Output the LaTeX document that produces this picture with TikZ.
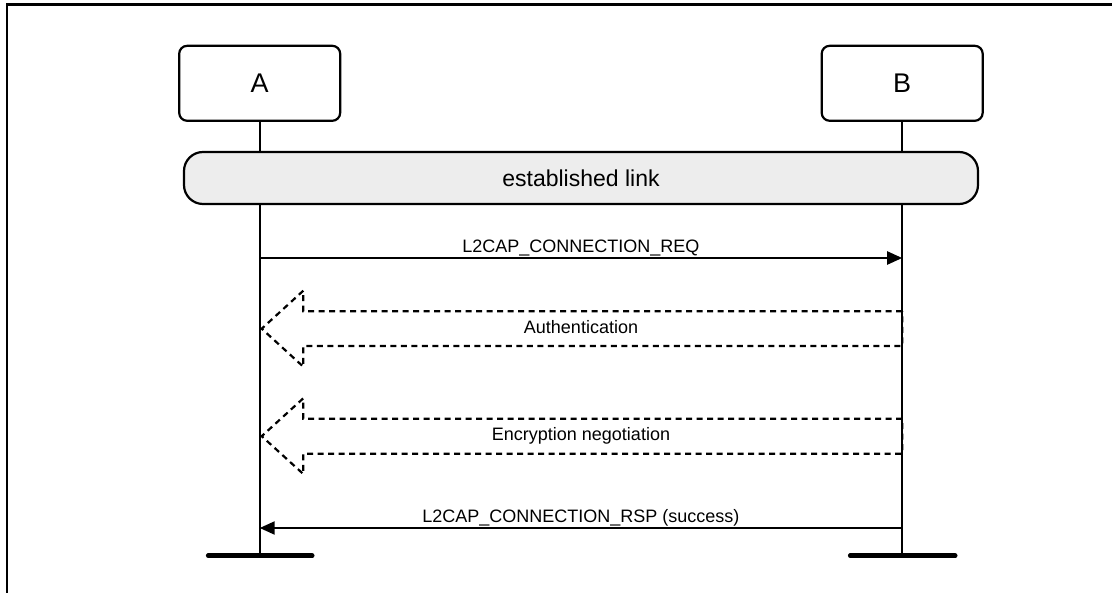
\documentclass[tikz,border=0pt]{standalone}
\usepackage{fontspec}
\setmainfont{Liberation Sans}
\usetikzlibrary{arrows.meta,calc}
\definecolor{linkgray}{HTML}{EDEDED}
\begin{document}
\begin{tikzpicture}[x=1pt,y=-1pt,
  actor/.style={draw,line width=2.2pt,rounded corners=8pt,minimum width=161pt,minimum height=75pt,inner sep=0pt,font=\fontsize{27}{29}\selectfont},
  linkbox/.style={draw,line width=2.2pt,fill=linkgray,rounded corners=19pt,minimum width=794pt,minimum height=52pt,inner sep=0pt,font=\fontsize{23}{25}\selectfont},
  life/.style={line width=2.2pt},
  endbar/.style={line width=4.6pt,line cap=round},
  msg/.style={line width=2.2pt,-{Triangle[length=15pt,width=13pt]}},
  fat/.style={line width=2.2pt,dash pattern=on 6pt off 4.5pt},
  lbl/.style={font=\fontsize{18}{20}\selectfont,inner sep=0pt,anchor=base},
  frame/.style={line width=2.2pt}]
\useasboundingbox (0,0) rectangle (1112,593);
\coordinate (fTR) at (1112,4.5);
\coordinate (fTL) at (7.3,4.5);
\coordinate (fBL) at (7.3,593);
\draw[frame] (fTR) -- (fTL) -- (fBL);

\node[actor] (A) at (259.7,83.3) {A};
\node[actor] (B) at (902.2,83.3) {B};
\node[linkbox] (link) at (581,178) {established link};

\coordinate (endA) at (259.7,555.7);
\coordinate (endB) at (902.2,555.7);

% fat arrows (drawn before lifelines)
\draw[fat] (902.2,311.3) -- (303.3,311.3) -- (303.3,290.7) -- (261.7,328.7) -- (303.3,366.7) -- (303.3,346) -- (902.2,346) -- cycle;
\draw[fat] (902.2,418.7) -- (303.3,418.7) -- (303.3,398.3) -- (261.7,436.2) -- (303.3,474) -- (303.3,453.7) -- (902.2,453.7) -- cycle;
\coordinate (authM) at (581,328.6);
\coordinate (encM) at (581,436.2);
\node[lbl,yshift=-4.5pt] (authL) at (authM) {Authentication};
\node[lbl,yshift=-4.8pt] (encL) at (encM) {Encryption negotiation};

% lifelines
\draw[life] (A.south) -- (A.south |- link.north);
\draw[life] (B.south) -- (B.south |- link.north);
\draw[life] (A.south |- link.south) -- (endA);
\draw[life] (B.south |- link.south) -- (endB);

% end bars
\draw[endbar] ($(endA)+(-51.5,0)$) -- ($(endA)+(52.5,0)$);
\draw[endbar] ($(endB)+(-52,0)$) -- ($(endB)+(53,0)$);

% messages
\coordinate (reqA) at (259.7,258);
\coordinate (reqB) at (902.2,258);
\coordinate (rspA) at (259.7,528);
\coordinate (rspB) at (902.2,528);
\draw[msg] (reqA) -- (reqB) node[lbl,midway,yshift=5.5pt] (reqL) {L2CAP\_CONNECTION\_REQ};
\draw[msg] (rspB) -- (rspA) node[lbl,midway,yshift=5pt] (rspL) {L2CAP\_CONNECTION\_RSP (success)};
\end{tikzpicture}
\end{document}
